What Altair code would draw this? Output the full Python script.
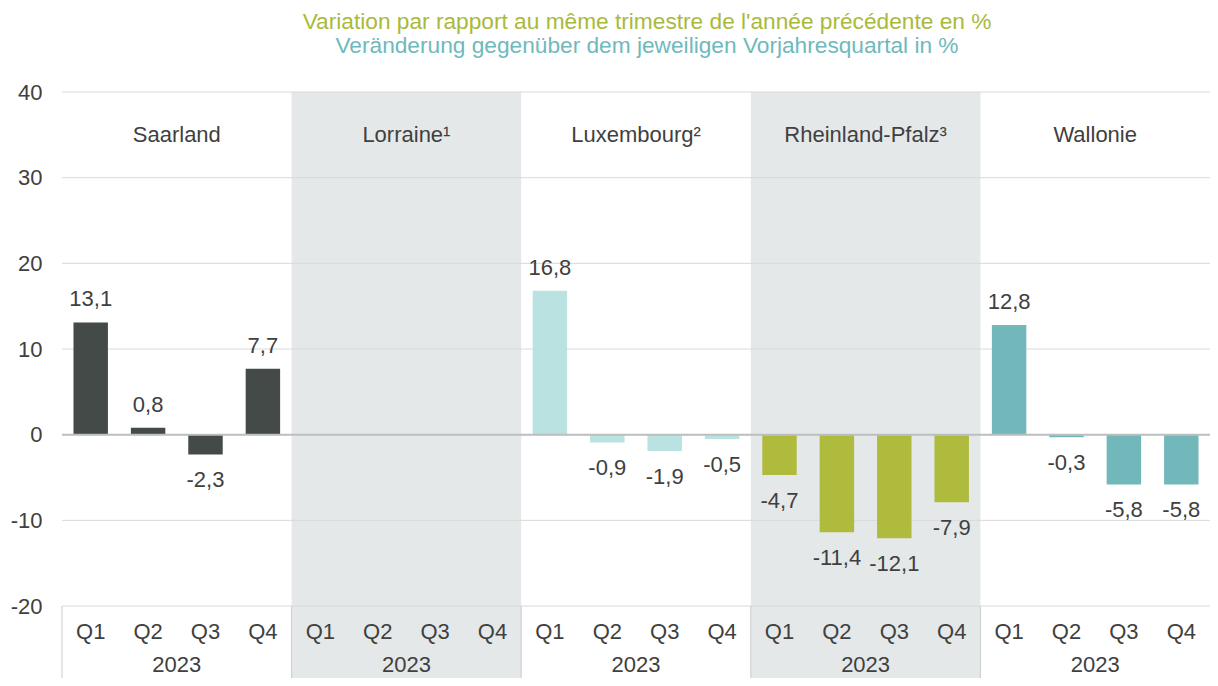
import altair as alt
import pandas as pd

# ---- data ----
regions = ["Saarland", "Lorraine¹", "Luxembourg²", "Rheinland-Pfalz³", "Wallonie"]
quarters = ["Q1", "Q2", "Q3", "Q4"]
year_label = "2023"
saarland = [13.1, 0.8, -2.3, 7.7]
lorraine = [None, None, None, None]
luxembourg = [16.8, -0.9, -1.9, -0.5]
rheinland_pfalz = [-4.7, -11.4, -12.1, -7.9]
wallonie = [12.8, -0.3, -5.8, -5.8]
series = [saarland, lorraine, luxembourg, rheinland_pfalz, wallonie]
bar_colors = ["#434a47", "#434a47", "#b9e2e0", "#aebb3c", "#72b8bb"]
shaded = [False, True, False, True, False]
grid_values = [-20, -10, 0, 10, 20, 30, 40]
title_fr = "Variation par rapport au même trimestre de l'année précédente en %"
title_de = "Veränderung gegenüber dem jeweiligen Vorjahresquartal in %"

Y_MIN, Y_MAX = -28.4, 40
FONT = "Liberation Sans"
TXT = "#404040"

# ---- tables ----
bars = []
qlabels = []
for g, (reg, vals) in enumerate(zip(regions, series)):
    for q, (qn, v) in enumerate(zip(quarters, vals)):
        idx = g * 4 + q
        qlabels.append({"qx": idx + 0.5, "qy": -23.8, "q": qn})
        if v is None:
            continue
        bars.append({
            "region": reg, "x0": idx + 0.2, "x1": idx + 0.8, "xc": idx + 0.5,
            "value": v, "zero": 0,
            "label": f"{v:.1f}".replace(".", ","),
        })
bars = pd.DataFrame(bars)
qlabels = pd.DataFrame(qlabels)

groups = pd.DataFrame({
    "region": regions,
    "g0": [g * 4 for g in range(5)],
    "g1": [g * 4 + 4 for g in range(5)],
    "gc": [g * 4 + 2 for g in range(5)],
    "shaded": shaded,
    "top": [Y_MAX] * 5,
    "bottom": [Y_MIN] * 5,
    "axis_top": [-20] * 5,
    "name_y": [34.2] * 5,
    "year_y": [-27.75] * 5,
    "year": [year_label] * 5,
})
shade_df = groups[groups["shaded"]]
grid_df = pd.DataFrame({"v": grid_values})
zero_df = pd.DataFrame({"v": [0]})
titles = pd.DataFrame({"t": [title_fr, title_de]})

xsc = alt.Scale(domain=[0, 20], nice=False, zero=False)
ysc = alt.Scale(domain=[Y_MIN, Y_MAX], nice=False, zero=False)
yaxis = alt.Axis(values=grid_values, grid=False, ticks=False, domain=False,
                 labelFontSize=22, labelColor=TXT, labelFont=FONT,
                 labelPadding=20, labelExpr="'' + datum.value", title=None)


def X(f):
    return alt.X(f, type="quantitative", scale=xsc, axis=None, title=None)


def Y(f):
    return alt.Y(f, type="quantitative", scale=ysc, axis=yaxis, title=None)


background = alt.Chart(shade_df).mark_rect(color="#e4e8e9").encode(
    x=X("g0"), x2="g1", y=Y("top"), y2="bottom")

grid = alt.Chart(grid_df).mark_rule(color="#d9d9d9", strokeWidth=1).encode(y=Y("v"))

separators = alt.Chart(groups).mark_rule(color="#c9cccc", strokeWidth=1).encode(
    x=X("g0"), y=Y("axis_top"), y2="bottom")

bar_layer = alt.Chart(bars).mark_bar().encode(
    x=X("x0"), x2="x1", y=Y("value"), y2="zero",
    color=alt.Color("region:N", scale=alt.Scale(domain=regions, range=bar_colors), legend=None))

zero_line = alt.Chart(zero_df).mark_rule(color="#bcbfbf", strokeWidth=2).encode(y=Y("v"))

pos_labels = alt.Chart(bars).transform_filter("datum.value >= 0").mark_text(
    font=FONT, fontSize=22, color=TXT, baseline="alphabetic", dy=-16).encode(
    x=X("xc"), y=Y("value"), text="label:N")

neg_labels = alt.Chart(bars).transform_filter("datum.value < 0").mark_text(
    font=FONT, fontSize=22, color=TXT, baseline="alphabetic", dy=33).encode(
    x=X("xc"), y=Y("value"), text="label:N")

region_names = alt.Chart(groups).mark_text(
    font=FONT, fontSize=22, color=TXT, baseline="alphabetic").encode(
    x=X("gc"), y=Y("name_y"), text="region:N")

q_text = alt.Chart(qlabels).mark_text(
    font=FONT, fontSize=22, color=TXT, baseline="alphabetic").encode(
    x=X("qx"), y=Y("qy"), text="q:N")

year_text = alt.Chart(groups).mark_text(
    font=FONT, fontSize=22, color=TXT, baseline="alphabetic").encode(
    x=X("gc"), y=Y("year_y"), text="year:N")

title1 = alt.Chart(titles.iloc[[0]]).mark_text(
    font=FONT, fontSize=22.7, color="#a9ba3a", baseline="alphabetic", align="center").encode(
    x=alt.value(585), y=alt.value(-63), text="t:N")
title2 = alt.Chart(titles.iloc[[1]]).mark_text(
    font=FONT, fontSize=22.7, color="#6fb9bc", baseline="alphabetic", align="center").encode(
    x=alt.value(585), y=alt.value(-39), text="t:N")

chart = alt.layer(
    background, grid, separators, bar_layer, zero_line,
    pos_labels, neg_labels, region_names, q_text, year_text, title1, title2
).properties(
    width=1148, height=586,
    autosize=alt.AutoSizeParams(type="none"),
    padding={"left": 54, "top": 84, "right": 0, "bottom": 0},
).configure_view(stroke=None)

chart.save("out.html", embed_options={"renderer": "svg", "actions": False})
